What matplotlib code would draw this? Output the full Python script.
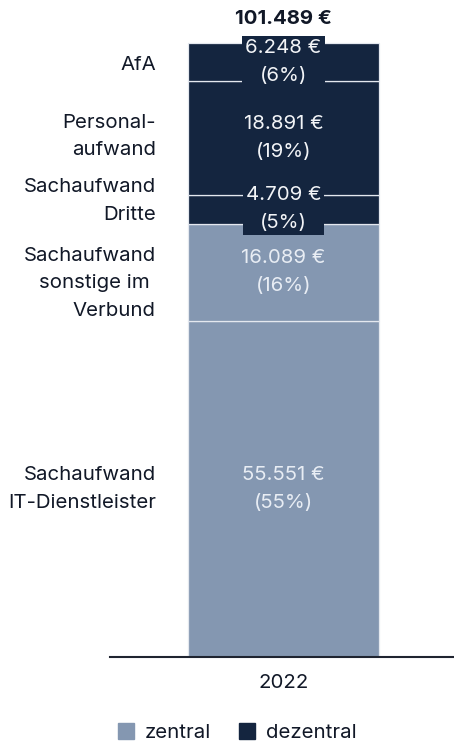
import matplotlib
matplotlib.use('Agg')
import matplotlib.pyplot as plt
from matplotlib.patches import Patch

# cost components, bottom to top
categories = ['Sachaufwand\nIT-Dienstleister', 'Sachaufwand\nsonstige im \nVerbund',
              'Sachaufwand\nDritte', 'Personal-\naufwand', 'AfA']
values = [55551, 16089, 4709, 18891, 6248]
groups = ['zentral', 'zentral', 'dezentral', 'dezentral', 'dezentral']
total = 101489  # as printed above the bar
year = '2022'

light = '#8497B1'
dark = '#14253F'
text_col = '#111827'
colors = {'zentral': light, 'dezentral': dark}
# small vertical nudges of the left labels (points, + is up)
label_nudge = [0, -8, 6, 1, -2]
fs = 14.7

plt.rcParams['font.family'] = ['Inter', 'DejaVu Sans']

fig = plt.figure(figsize=(4.54, 7.45), dpi=100)
ax = fig.add_axes([110 / 454, 88 / 745, 344 / 454, 647 / 745])

bottom = 0
for cat, val, grp, nudge in zip(categories, values, groups, label_nudge):
    ax.bar(0, val, width=1.0, bottom=bottom, color=colors[grp],
           edgecolor='#e4e8ef', linewidth=0.9, zorder=2)
    mid = bottom + val / 2
    pct = round(val / total * 100)
    lbl = f'{val:,}'.replace(',', '.') + ' €\n(' + f'{pct}%)'
    small = val / total < 0.08
    tc = '#f2f4f7' if grp == 'dezentral' else '#e8edf4'
    bbox = dict(boxstyle='square,pad=0.15', fc=dark, ec='none') if small else None
    ax.text(0, mid, lbl, ha='center', va='center', fontsize=fs, color=tc,
            linespacing=1.7, bbox=bbox, zorder=4)
    ax.annotate(cat, xy=(-0.668, mid), xytext=(0, nudge), textcoords='offset points',
                ha='right', va='center', fontsize=fs, color=text_col,
                linespacing=1.7, annotation_clip=False)
    bottom += val

ax.annotate(f'{total:,}'.replace(',', '.') + ' €', xy=(0, sum(values)), xytext=(0, 17),
            textcoords='offset points', ha='center', va='center',
            fontsize=fs, fontweight='bold', color=text_col)

ax.set_xlim(-0.908, 0.893)
ax.set_ylim(0, 106950)
ax.set_xticks([0])
ax.set_xticklabels([year], fontsize=fs, color=text_col)
ax.set_yticks([])
ax.tick_params(axis='x', length=0, pad=12)
for s in ['top', 'right', 'left']:
    ax.spines[s].set_visible(False)
ax.spines['bottom'].set_color('#1f2430')
ax.spines['bottom'].set_linewidth(1.5)

handles = [Patch(color=light, label='zentral'), Patch(color=dark, label='dezentral')]
fig.legend(handles=handles, loc='center', bbox_to_anchor=(0.522, 0.017), ncol=2,
           frameon=False, fontsize=fs, handlelength=0.8, handleheight=0.8,
           handletextpad=0.5, columnspacing=1.4, labelcolor=text_col)

fig.savefig('out.png', dpi=100)
